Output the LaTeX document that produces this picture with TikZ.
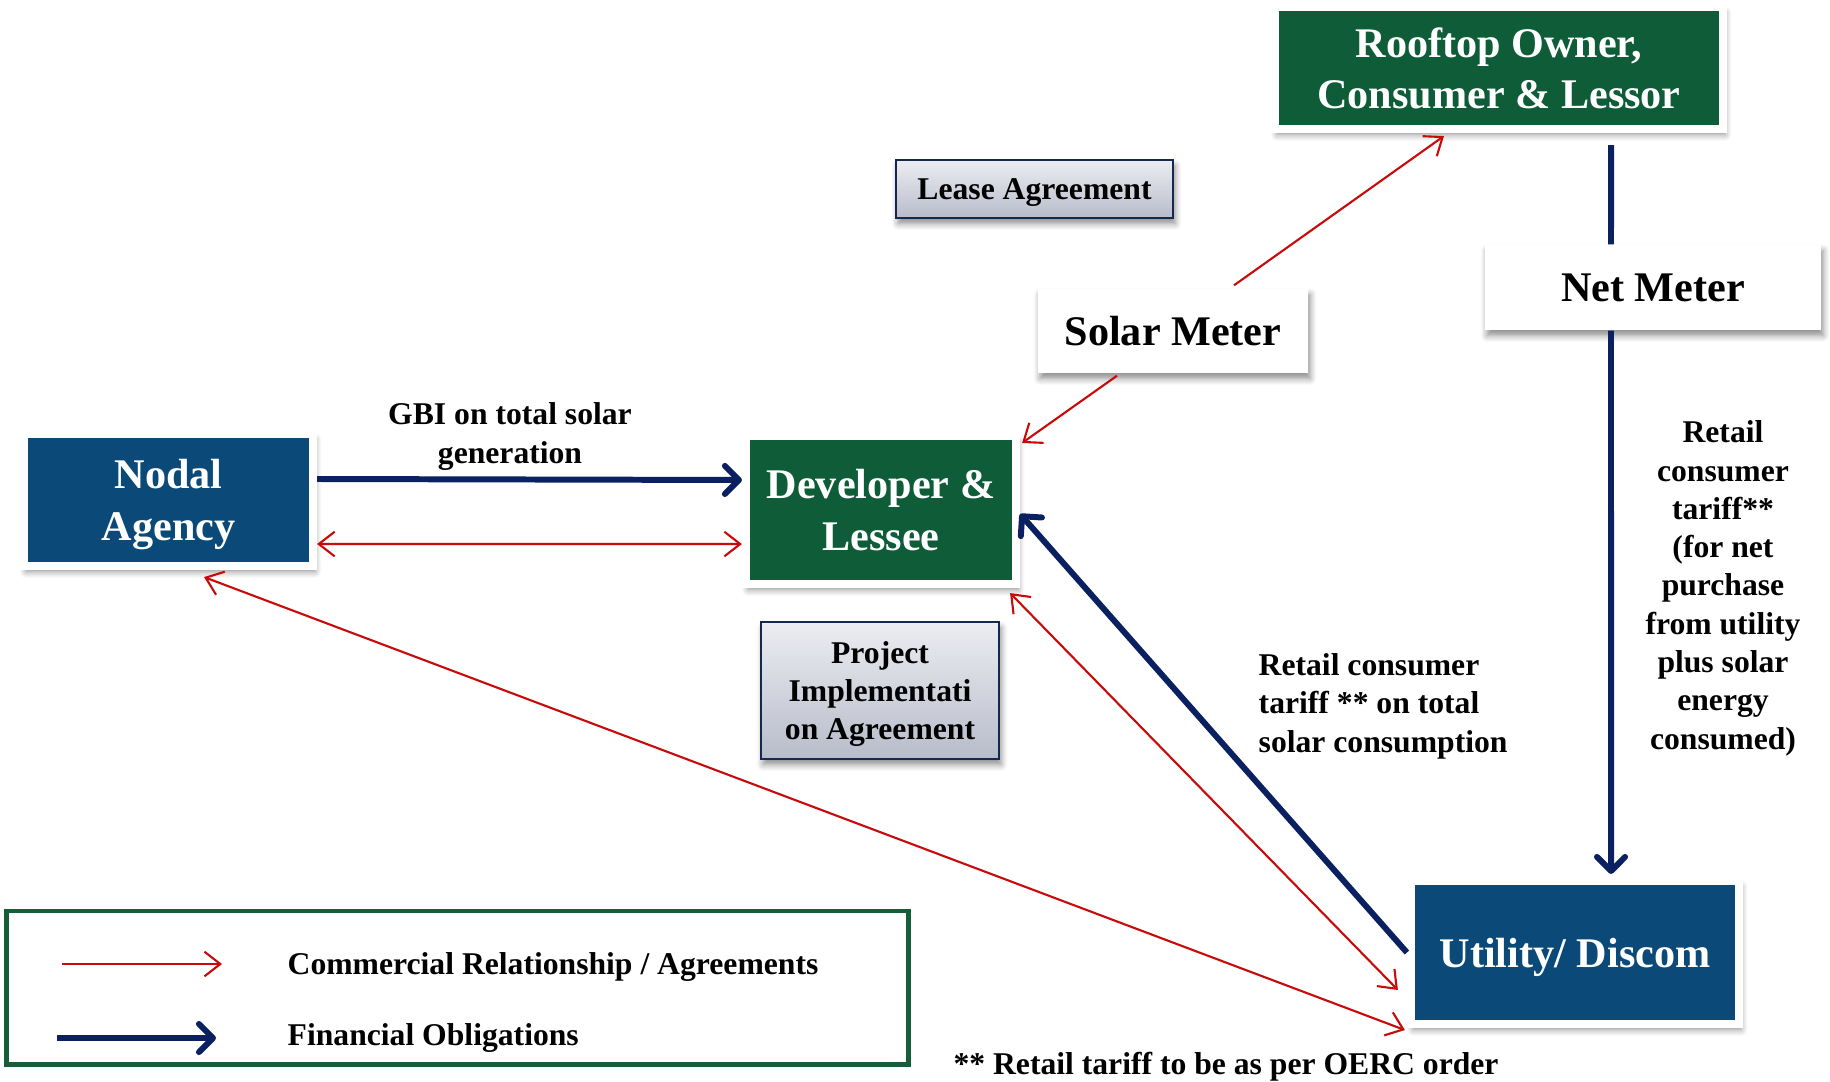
\documentclass[tikz,border=0pt]{standalone}
\usepackage{fontspec}
\setmainfont{Liberation Serif}
\usetikzlibrary{arrows.meta,shadows,shadows.blur}
\definecolor{nblue}{RGB}{11,74,120}
\definecolor{ngreen}{RGB}{14,92,56}
\definecolor{navy}{RGB}{10,32,96}
\definecolor{cred}{RGB}{200,10,10}
\definecolor{lgreen}{RGB}{22,94,58}
\definecolor{gtop}{RGB}{236,237,242}
\definecolor{gbot}{RGB}{184,188,202}
\definecolor{bnavy}{RGB}{20,40,80}
\begin{document}
\begin{tikzpicture}[x=0.01cm,y=-0.01cm,
  shad/.style={blur shadow={shadow xshift=0.6pt, shadow yshift=-1.6pt, shadow blur radius=1.8pt, shadow blur steps=6, shadow opacity=45}},
  bigbox/.style={shad, draw=white, line width=0.08cm, text=white, font=\fontsize{12}{14.6}\selectfont\bfseries, align=center, inner sep=0pt, text depth=0pt},
  meter/.style={shad, fill=white, font=\fontsize{12}{14.6}\selectfont\bfseries, inner sep=0pt, text depth=0pt},
  agree/.style={shad, draw=bnavy, line width=0.7pt, top color=gtop, bottom color=gbot, align=center, inner sep=0pt, font=\fontsize{9}{10.9}\selectfont\bfseries, text depth=0pt},
  lbl/.style={font=\fontsize{9}{10.9}\selectfont\bfseries, inner sep=0pt, text depth=0pt},
  comm/.style={draw=cred, line width=0.6pt, -{Straight Barb[length=4.5pt,width=7pt]}},
  commboth/.style={comm, {Straight Barb[length=4.5pt,width=7pt]}-{Straight Barb[length=4.5pt,width=7pt]}},
  fin/.style={draw=navy, line width=1.7pt, -{Straight Barb[length=4pt,width=8pt,round]}},
  finline/.style={draw=navy, line width=1.7pt}]
\useasboundingbox (0,0) rectangle (1830,1081);
% boxes
\node[bigbox, fill=ngreen, minimum width=4.48cm, minimum height=1.22cm] (rooftop) at (1499,68) {Rooftop Owner,\\Consumer \& Lessor};
\node[agree, minimum width=2.77cm, minimum height=0.58cm, font=\fontsize{9}{10.9}\selectfont\bfseries] (lease) at (1034.5,189) {Lease Agreement};
\node[meter, minimum width=2.70cm, minimum height=0.84cm] (solar) at (1173,331) {Solar Meter};
\node[meter, minimum width=3.36cm, minimum height=0.85cm] (net) at (1653,287.5) {Net Meter};
\node[bigbox, fill=nblue, minimum width=2.89cm, minimum height=1.32cm] (nodal) at (168.5,500) {Nodal\\Agency};
\node[bigbox, fill=ngreen, minimum width=2.70cm, minimum height=1.48cm] (developer) at (881,510) {Developer \&\\Lessee};
\node[agree, minimum width=2.38cm, minimum height=1.37cm] (pia) at (880,690.5) {Project\\Implementati\\on Agreement};
\node[bigbox, fill=nblue, minimum width=3.28cm, minimum height=1.43cm] (utility) at (1575,952.5) {Utility/ Discom};
% legend
\node[draw=lgreen, line width=1.4pt, minimum width=9.01cm, minimum height=1.53cm, inner sep=0pt] (legend) at (457.5,987.5) {};
\coordinate (l1a) at (62,964);
\coordinate (l1b) at (222,964);
\coordinate (l2a) at (57,1038);
\coordinate (l2b) at (216,1038);
\draw[comm] (l1a) -- (l1b);
\draw[fin] (l2a) -- (l2b);
\node[lbl, anchor=west] (lt1) at (287,964) {Commercial Relationship / Agreements};
\node[lbl, anchor=west] (lt2) at (287,1035) {Financial Obligations};
% labels
\node[lbl, align=center] (gbi) at (510,433) {GBI on total solar\\generation};
\node[lbl, align=left, anchor=west] (rct) at (1258,703) {Retail consumer\\tariff ** on total\\solar consumption};
\node[lbl, align=center] (rnet) at (1723,585) {Retail\\consumer\\tariff**\\(for net\\purchase\\from utility\\plus solar\\energy\\consumed)};
\node[lbl] (foot) at (1226,1063) {** Retail tariff to be as per OERC order};
% connectors
\draw[fin] ([yshift=0.21cm]nodal.east) -- ([yshift=0.30cm]developer.west);
\draw[commboth] ([yshift=-0.44cm]nodal.east) -- ([yshift=-0.34cm]developer.west);
\draw[comm] ([xshift=0.61cm,yshift=0.03cm]solar.north) -- ([xshift=-0.55cm,yshift=-0.03cm]rooftop.south);
\draw[comm] ([xshift=-0.56cm,yshift=-0.02cm]solar.south) -- ([xshift=0.02cm,yshift=-0.11cm]developer.north east);
\draw[finline] ([xshift=1.12cm,yshift=-0.12cm]rooftop.south) -- ([xshift=-0.42cm]net.north);
\draw[fin] ([xshift=-0.42cm]net.south) -- ([xshift=0.36cm,yshift=0.03cm]utility.north);
\draw[fin] (utility.west) -- ([yshift=-0.04cm]developer.east);
\draw[commboth] ([xshift=-0.10cm,yshift=-0.05cm]developer.south east) -- ([xshift=-0.09cm,yshift=-0.375cm]utility.west);
\draw[commboth] ([xshift=0.355cm,yshift=-0.07cm]nodal.south) -- ([xshift=-0.02cm,yshift=-0.02cm]utility.south west);
\end{tikzpicture}
\end{document}
